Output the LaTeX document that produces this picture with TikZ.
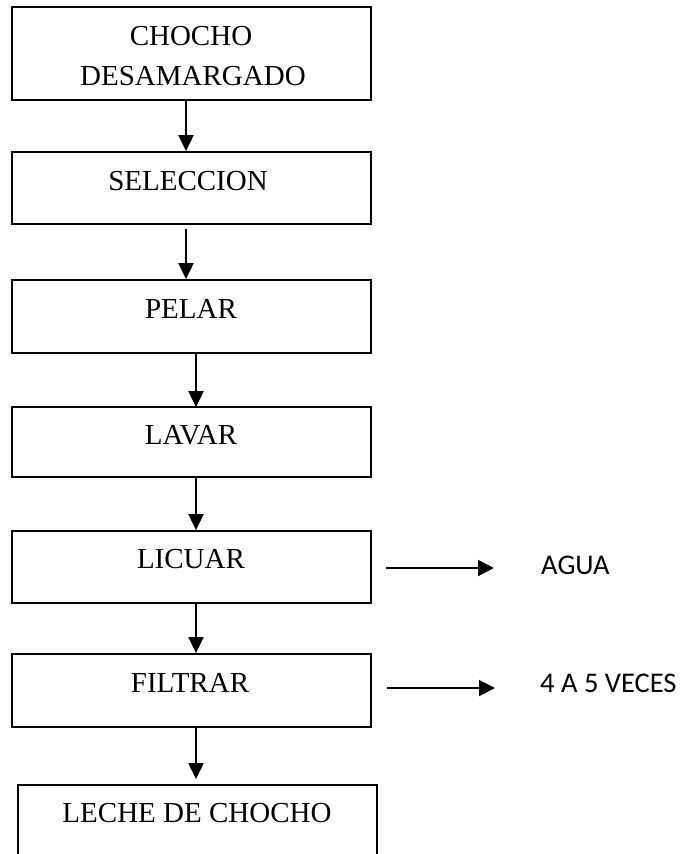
\documentclass[tikz,border=0pt]{standalone}
\usepackage{fontspec}
\setmainfont{Liberation Serif}
\newfontfamily\calib{Carlito}
\usetikzlibrary{arrows.meta}
\begin{document}
\begin{tikzpicture}[x=1pt,y=1pt,
  stepbox/.style={draw,line width=1.8pt,inner sep=0pt},
  steptext/.style={anchor=base,inner sep=0pt,font=\fontsize{29}{34}\selectfont},
  sidetext/.style={anchor=base west,inner sep=0pt,font=\calib\fontsize{28.5}{33}\selectfont},
  varr/.style={line width=2pt,-{Triangle[width=15pt,length=16pt]}},
  harr/.style={line width=2pt,-{Triangle[width=16pt,length=16pt]}}]
\useasboundingbox (0,0) rectangle (691,-854);
\clip (0,0) rectangle (691,-854);
% boxes
\node[stepbox,minimum width=359pt,minimum height=93pt] (b1) at (191.5,-53.5) {};
\node[stepbox,minimum width=359pt,minimum height=72pt] (b2) at (191.5,-188) {};
\node[stepbox,minimum width=359pt,minimum height=73pt] (b3) at (191.5,-316.5) {};
\node[stepbox,minimum width=359pt,minimum height=70pt] (b4) at (191.5,-442) {};
\node[stepbox,minimum width=359pt,minimum height=72pt] (b5) at (191.5,-567) {};
\node[stepbox,minimum width=359pt,minimum height=73pt] (b6) at (191.5,-690.5) {};
\node[stepbox,minimum width=359pt,minimum height=110pt] (b7) at (197.5,-840) {};
% texts
\node[steptext] (t1a) at (191,-45) {CHOCHO};
\node[steptext] (t1b) at (193,-85) {DESAMARGADO};
\node[steptext] (t2) at (188,-190) {SELECCION};
\node[steptext] (t3) at (191,-318) {PELAR};
\node[steptext] (t4) at (191,-444) {LAVAR};
\node[steptext] (t5) at (191,-568) {LICUAR};
\node[steptext] (t6) at (190,-692) {FILTRAR};
\node[steptext] (t7) at (197,-822) {LECHE DE CHOCHO};
\node[sidetext] (s1) at (541,-574) {AGUA};
\node[sidetext] (s2) at (540,-692) {4 A 5 VECES};
% vertical arrows
\draw[varr] (b1.south -| 186,0) -- (b2.north -| 186,0);
\draw[varr] ([yshift=-4pt]b2.south -| 186,0) -- (b3.north -| 186,0);
\draw[varr] (b3.south -| 196,0) -- ([yshift=-1pt]b4.north -| 196,0);
\draw[varr] (b4.south -| 196,0) -- (b5.north -| 196,0);
\draw[varr] (b5.south -| 196,0) -- (b6.north -| 196,0);
\draw[varr] (b6.south -| 196,0) -- ([yshift=5pt]b7.north -| 196,0);
% horizontal arrows
\coordinate (h1s) at (386,-568);
\coordinate (h1e) at (494,-568);
\coordinate (h2s) at (387,-688);
\coordinate (h2e) at (495,-688);
\draw[harr] (h1s) -- (h1e);
\draw[harr] (h2s) -- (h2e);
\end{tikzpicture}
\end{document}
